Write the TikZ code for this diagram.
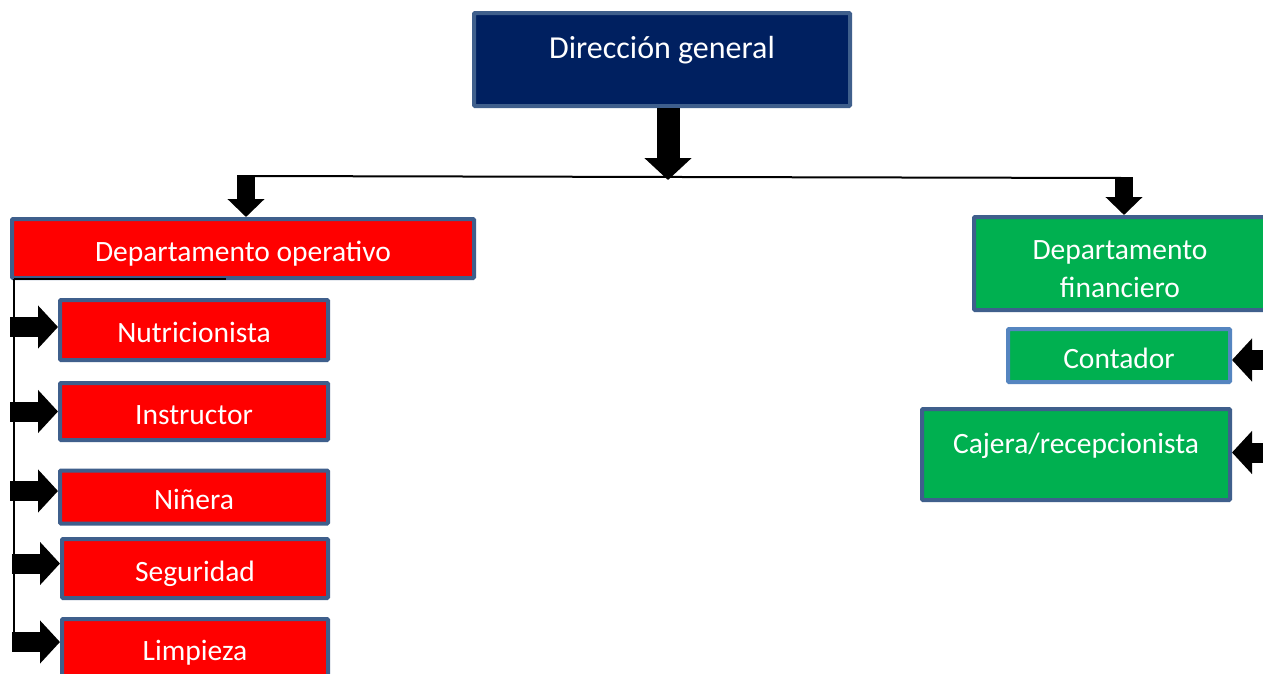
\documentclass[tikz,border=0pt]{standalone}
\usepackage{fontspec}
\setmainfont{Carlito}
\usetikzlibrary{arrows.meta,calc}
\definecolor{navy}{HTML}{002060}
\definecolor{bord}{HTML}{3F5F8C}
\definecolor{bordlight}{HTML}{5585C0}
\definecolor{grn}{HTML}{00B050}
\definecolor{rd}{HTML}{FF0000}
\begin{document}
\begin{tikzpicture}[x=1pt,y=-1pt,
  box/.style={draw=bord, line width=4pt, text=white, inner sep=0pt, align=center,
    font=\fontsize{29.5}{38}\selectfont, rounded corners=1pt,
    text height=28pt, text depth=3pt},
  redbox/.style={box, fill=rd},
  greenbox/.style={box, fill=grn},
  navybox/.style={box, fill=navy},
  fatarrow/.style={line width=20pt, -{Triangle[width=42pt,length=20pt]}},
  downarrow/.style={line width=18pt, -{Triangle[width=36pt,length=18pt]}},
  toparrow/.style={line width=23pt, -{Triangle[width=46pt,length=22pt]}},
  thinline/.style={line width=2pt, black}]
\useasboundingbox (0,0) rectangle (1263,673);
\fill[white] (0,0) rectangle (1263,673);
\clip (0,0) rectangle (1263,673);

% boxes
\node[navybox, font=\fontsize{32}{38}\selectfont, minimum width=376pt, minimum height=93pt, text height=28pt, text depth=30pt] (dg) at (662,59.5) {Dirección general};
\node[redbox, minimum width=462pt, minimum height=59pt] (depop) at (243,248.5) {Departamento operativo};
\node[redbox, minimum width=268pt, minimum height=60pt] (nutri) at (194,330) {Nutricionista};
\node[redbox, minimum width=268pt, minimum height=57pt] (instr) at (194,411.5) {Instructor};
\node[redbox, minimum width=268pt, minimum height=53pt] (ninera) at (194,497) {Niñera};
\node[redbox, minimum width=266pt, minimum height=59pt] (segur) at (195,568.5) {Seguridad};
\node[redbox, minimum width=266pt, minimum height=58pt] (limp) at (195,648) {Limpieza};
\node[greenbox, text height=, text depth=, minimum width=292pt, minimum height=93pt] (depfin) at (1120,263.5) {\rule{0pt}{31pt}Departamento\\financiero};
\node[greenbox, draw=bordlight, minimum width=222pt, minimum height=53pt] (cont) at (1119,355.5) {Contador};
\node[greenbox, minimum width=308pt, minimum height=91pt, text height=28pt, text depth=30pt] (caj) at (1076,454.5) {Cajera/recepcionista};

% top connectors
\coordinate (jmid) at ($(dg.south)+(6,72)$);
\draw[toparrow] ($(dg.south)+(6,0)$) -- (jmid);
\coordinate (jleft) at ($(depop.north)+(3,-41)$);
\coordinate (jright) at ($(depfin.north)+(4,-37)$);
\draw[thinline] (jleft) -- (jright);
\draw[downarrow] ($(jleft)+(0,-1)$) -- ($(depop.north)+(3,0)$);
\draw[downarrow] ($(jright)+(0,-1)$) -- ($(depfin.north)+(4,0)$);

% left tree
\coordinate (vtop) at ($(depop.south west)+(4,-1)$);
\coordinate (vbot) at ($(vtop)+(0,367)$);
\draw[thinline] (vtop) -- ($(depop.south west)+(216,-1)$);
\draw[thinline] (vtop) -- (vbot);
\foreach \n/\dy in {nutri/-3, instr/0, ninera/-6, segur/-5, limp/-6}{
  \draw[fatarrow] ($(\n.west)+(-48,\dy)$) -- ($(\n.west)+(0,\dy)$);
}

% right arrows
\draw[fatarrow] ($(cont.east)+(45,4.5)$) -- ($(cont.east)+(0,4.5)$);
\draw[fatarrow] ($(caj.east)+(45,-2)$) -- ($(caj.east)+(0,-2)$);
\end{tikzpicture}
\end{document}
